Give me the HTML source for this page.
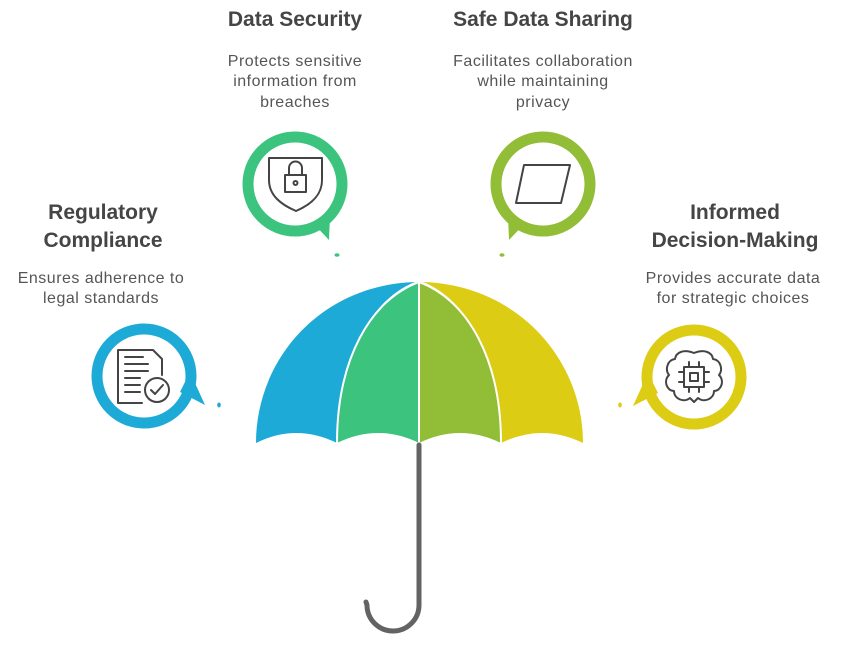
<!DOCTYPE html>
<html><head><meta charset="utf-8"><style>
html,body{margin:0;padding:0;background:#fff;}
svg{display:block;}
.t{font-family:"Liberation Sans",sans-serif;font-weight:bold;font-size:21px;fill:#454545;text-anchor:middle;}
.d{font-family:"Liberation Sans",sans-serif;font-size:16px;letter-spacing:0.5px;fill:#555;text-anchor:middle;}
.ic{fill:none;stroke:#444;stroke-width:2;stroke-linejoin:round;stroke-linecap:round;}
</style></head><body>
<svg width="843" height="650" viewBox="0 0 843 650">
<path d="M256,443 C256,360 320,285 415,282 C370,300 337,360 337,443 Q296,423 256,443Z" fill="#1eaad6"/>
<path d="M337,443 C337,360 370,300 417,282 L419,282 L419,443 Q378,423 337,443Z" fill="#3cc47f"/>
<path d="M419,443 L419,282 L421,282 C468,300 501,360 501,443 Q460,423 419,443Z" fill="#91bd37"/>
<path d="M501,443 C501,360 468,300 423,282 C518,285 583,360 583,443 Q542,423 501,443Z" fill="#ddcc14"/>
<path d="M337,443 C337,360 370,300 419,282 C468,300 501,360 501,443 M419,282 L419,443" fill="none" stroke="#fff" stroke-width="2"/>
<path d="M419,445 L419,605 A26,26 0 0 1 367,605 L366,602" fill="none" stroke="#636363" stroke-width="5" stroke-linecap="round"/>
<g fill="none" stroke-width="11">
<circle cx="295" cy="184" r="47" stroke="#3cc47f"/>
<circle cx="543" cy="184" r="47" stroke="#91bd37"/>
<circle cx="144" cy="376" r="47" stroke="#1eaad6"/>
<circle cx="694" cy="377" r="47" stroke="#ddcc14"/>
</g>
<path d="M312,222 L329,240 L330,215Z" fill="#3cc47f"/>
<path d="M526,222 L509,240 L508,215Z" fill="#91bd37"/>
<path d="M180,392 L205,405 L190,372Z" fill="#1eaad6"/>
<path d="M658,393 L633,406 L648,373Z" fill="#ddcc14"/>
<ellipse cx="337" cy="255" rx="2.5" ry="1.8" fill="#3cc47f"/>
<ellipse cx="502" cy="255" rx="2.5" ry="1.8" fill="#91bd37"/>
<ellipse cx="219" cy="405" rx="1.8" ry="2.5" fill="#1eaad6"/>
<ellipse cx="620" cy="405" rx="1.8" ry="2.5" fill="#ddcc14"/>
<path class="ic" d="M269,158 L322,158 L322,180 C322,196 310,205 296,211 C282,205 269,196 269,180Z"/>
<rect class="ic" x="285" y="175" width="21" height="17"/>
<path class="ic" d="M289,175 V168 A6.5,6.5 0 0 1 302,168 V175"/>
<circle cx="295.5" cy="183" r="2" class="ic"/>
<path class="ic" d="M524,165 L570,165 L561,203 L516,203Z"/>
<path class="ic" d="M118,350 L153,350 L162,359 L162,375 M118,350 L118,403 L142,403 M125,357 L143,357 M125,364 L148,364 M125,371 L148,371 M125,378 L140,378 M125,385 L140,385 M125,392 L140,392"/>
<circle class="ic" cx="157" cy="390" r="12"/>
<path class="ic" d="M151,390 L155,394 L163,385"/>
<path class="ic" d="M694,353 C684,349 676,352 675,359 C667,360 665,370 669,375 C663,381 667,391 674,391 C674,399 684,403 690,398 L694,402 L698,398 C704,403 714,399 714,391 C721,391 725,381 719,375 C723,370 721,360 713,359 C712,352 704,349 694,353Z"/>
<rect class="ic" x="684" y="367" width="20" height="20"/>
<rect class="ic" x="690" y="373" width="8" height="8"/>
<path class="ic" d="M689,362 V367 M699,362 V367 M689,387 V392 M699,387 V392 M679,372 H684 M679,382 H684 M704,372 H709 M704,382 H709"/>
<text class="t" x="295" y="26">Data Security</text>
<text class="d" x="295" y="66">Protects sensitive</text>
<text class="d" x="295" y="86">information from</text>
<text class="d" x="295" y="107">breaches</text>
<text class="t" x="543" y="26">Safe Data Sharing</text>
<text class="d" x="543" y="66">Facilitates collaboration</text>
<text class="d" x="543" y="86">while maintaining</text>
<text class="d" x="543" y="107">privacy</text>
<text class="t" x="103" y="219">Regulatory</text>
<text class="t" x="103" y="247">Compliance</text>
<text class="d" x="101" y="283">Ensures adherence to</text>
<text class="d" x="101" y="303">legal standards</text>
<text class="t" x="735" y="219">Informed</text>
<text class="t" x="735" y="247">Decision-Making</text>
<text class="d" x="733" y="283">Provides accurate data</text>
<text class="d" x="733" y="303">for strategic choices</text>
</svg>
</body></html>
